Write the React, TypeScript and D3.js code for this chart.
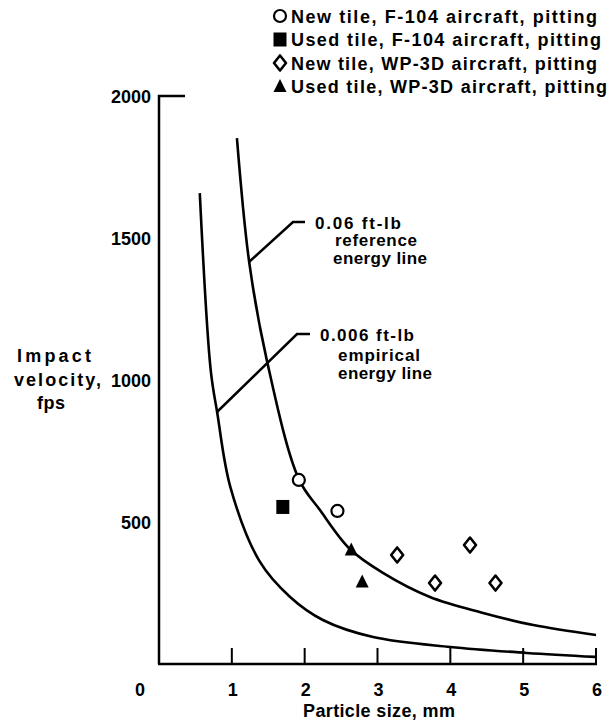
import React from "react";
import * as d3 from "d3";

// ---- data ----
const xTicks = [1, 2, 3, 4, 5, 6];
const yTicks = [500, 1000, 1500, 2000];

// 0.06 ft-lb reference energy line (particle size mm, velocity fps)
const refLineX = [1.07, 1.24, 1.48, 1.92, 2.21, 2.62, 3.08, 3.72, 4.45, 5.14, 6.0];
const refLineY = [1852, 1412, 1070, 651, 542, 405, 320, 236, 180, 137, 102];

// 0.006 ft-lb empirical energy line
const empLineX = [0.56, 0.71, 0.8, 0.98, 1.38, 1.8, 2.25, 2.94, 4.0, 5.05, 6.0];
const empLineY = [1658, 1035, 884, 623, 362, 236, 155, 95, 60, 39, 25];

const newF104X = [1.92, 2.45];
const newF104Y = [648, 539];
const usedF104X = [1.7];
const usedF104Y = [553];
const newWP3DX = [3.27, 4.27, 3.79, 4.62];
const newWP3DY = [384, 419, 285, 285];
const usedWP3DX = [2.64, 2.79];
const usedWP3DY = [401, 289];

const legendLabels = [
  "New tile, F-104 aircraft, pitting",
  "Used tile, F-104 aircraft, pitting",
  "New tile, WP-3D aircraft, pitting",
  "Used tile, WP-3D aircraft, pitting",
];
const legendWidths = [306, 310, 306, 316];

const FONT = "'Liberation Sans', Arial, Helvetica, sans-serif";

function Marker({ kind, cx, cy }: { kind: string; cx: number; cy: number }) {
  if (kind === "circle")
    return <circle cx={cx} cy={cy} r={6} fill="#fff" stroke="#000" strokeWidth={2.2} />;
  if (kind === "square")
    return <rect x={cx - 6.5} y={cy - 7} width={13} height={14} fill="#000" />;
  if (kind === "diamond")
    return (
      <path
        d={`M${cx},${cy - 7.5}L${cx + 6},${cy}L${cx},${cy + 7.5}L${cx - 6},${cy}Z`}
        fill="#fff"
        stroke="#000"
        strokeWidth={2.6}
        strokeLinejoin="round"
      />
    );
  return <path d={`M${cx},${cy - 7.5}L${cx + 6.5},${cy + 5.5}L${cx - 6.5},${cy + 5.5}Z`} fill="#000" />;
}

export default function App() {
  const W = 613, H = 727;
  const x = d3.scaleLinear().domain([0, 6]).range([159, 596]);
  const y = d3.scaleLinear().domain([0, 2000]).range([664, 96]);

  const line = d3
    .line<[number, number]>()
    .x((d) => x(d[0]))
    .y((d) => y(d[1]))
    .curve(d3.curveCatmullRom.alpha(0.5));

  const refPts = refLineX.map((v, i) => [v, refLineY[i]] as [number, number]);
  const empPts = empLineX.map((v, i) => [v, empLineY[i]] as [number, number]);

  const series = [
    { kind: "circle", xs: newF104X, ys: newF104Y },
    { kind: "square", xs: usedF104X, ys: usedF104Y },
    { kind: "diamond", xs: newWP3DX, ys: newWP3DY },
    { kind: "triangle", xs: usedWP3DX, ys: usedWP3DY },
  ];

  const ts = { fontFamily: FONT, fontWeight: 700 as const, fill: "#000", fontSize: 18 };
  const ta = { ...ts, fontSize: 17 };
  const sp = { lengthAdjust: "spacing" as const };

  return (
    <svg
      width={W}
      height={H}
      style={{ position: "absolute", left: 0, top: 0, background: "#fff" }}
    >
      <rect width={W} height={H} fill="#fff" />
      {/* Axes */}
      <line x1={x(0)} y1={y(2000) - 1} x2={x(0)} y2={y(0)} stroke="#000" strokeWidth={2.5} />
      <line x1={x(0) - 1} y1={y(2000)} x2={x(0) + 26} y2={y(2000)} stroke="#000" strokeWidth={2.5} />
      <line x1={x(0) - 1} y1={y(0)} x2={x(6) + 1} y2={y(0)} stroke="#000" strokeWidth={2.5} />
      {xTicks.map((t) => (
        <line key={t} x1={x(t)} y1={y(0)} x2={x(t)} y2={y(0) - 16} stroke="#000" strokeWidth={2} />
      ))}
      {xTicks.map((t) => (
        <text key={"xl" + t} x={x(t) + 1} y={696} textAnchor="middle" {...ts}>
          {t}
        </text>
      ))}
      <text x={140} y={696} textAnchor="middle" {...ts}>0</text>
      {yTicks.map((t) => (
        <text key={"yl" + t} x={151} y={y(t) + 6.5} textAnchor="end" {...ts}>
          {t}
        </text>
      ))}
      <text x={303} y={717} textLength={152} {...sp} {...ts}>
        Particle size, mm
      </text>
      <text x={17} y={362} textLength={74} {...sp} {...ts}>Impact</text>
      <text x={14} y={386} textLength={87} {...sp} {...ts}>velocity,</text>
      <text x={37} y={409} textLength={28} {...sp} {...ts}>fps</text>

      {/* Energy lines */}
      <path d={line(refPts) || ""} fill="none" stroke="#000" strokeWidth={2.6} />
      <path d={line(empPts) || ""} fill="none" stroke="#000" strokeWidth={2.6} />

      {/* Annotations */}
      <path d="M305,222L293,222L249,262" fill="none" stroke="#000" strokeWidth={2.5} />
      <text x={315} y={229} textLength={86} {...sp} {...ta}>0.06 ft-lb</text>
      <text x={335} y={246} textLength={82} {...sp} {...ta}>reference</text>
      <text x={333} y={264} textLength={94} {...sp} {...ta}>energy line</text>

      <path d="M310,334L297,334L217,412" fill="none" stroke="#000" strokeWidth={2.5} />
      <text x={320} y={341} textLength={94} {...sp} {...ta}>0.006 ft-lb</text>
      <text x={338} y={360.5} textLength={82} {...sp} {...ta}>empirical</text>
      <text x={338} y={378.5} textLength={94} {...sp} {...ta}>energy line</text>

      {/* Data markers */}
      {series.map((s) =>
        s.xs.map((v, i) => <Marker key={s.kind + i} kind={s.kind} cx={x(v)} cy={y(s.ys[i])} />)
      )}

      {/* Legend */}
      {legendLabels.map((lab, i) => (
        <g key={lab}>
          <Marker kind={series[i].kind} cx={280} cy={16 + i * 23.5} />
          <text x={291} y={22.5 + i * 23.5} textLength={legendWidths[i]} {...sp} {...ts}>
            {lab}
          </text>
        </g>
      ))}
    </svg>
  );
}
